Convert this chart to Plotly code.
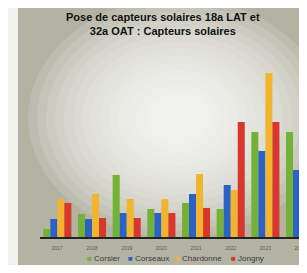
import plotly.graph_objects as go

years = ["2017", "2018", "2019", "2020", "2021", "2022", "2023", "2024"]
series_names = ["Corsier", "Corseaux", "Chardonne", "Jongny"]
corsier = [8, 23, 62, 28, 34, 28, 105, 105]
corseaux = [18, 18, 24, 24, 43, 52, 86, 67]
chardonne = [38, 43, 38, 38, 63, 47, 164, 120]
jongny = [34, 19, 19, 24, 29, 115, 115, 115]
colors = ["#74b235", "#2a62c8", "#f0b42e", "#d8372c"]
title_text = "Pose de capteurs solaires 18a LAT et<br>32a OAT : Capteurs solaires"

# page has an 8px body margin: work in reference-pixel coords, shift by OFF
OFF = 8
W, H = 307 - OFF, 273 - 2 * OFF
L, R = 40 - OFF, 0
T = 40 - OFF
B = H - (237 - OFF)
pw, ph = W - L - R, H - T - B

def px(x):
    return (x - OFF - L) / pw

def py(y):
    return (H - B - (y - OFF)) / ph

fig = go.Figure()
for name, vals, c in zip(series_names, [corsier, corseaux, chardonne, jongny], colors):
    fig.add_trace(go.Bar(x=years, y=vals, name=name, marker=dict(color=c, line=dict(width=0)),
                         showlegend=False))

shapes = []
shapes.append(dict(type="rect", xref="paper", yref="paper", x0=px(18), x1=px(320), y0=py(268), y1=py(-10),
                   fillcolor="#b3b3a4", line=dict(width=0), layer="below"))
# soft glare
cx, cy = 178, 118
n = 14
for i in range(n):
    r = 150 - i * 9
    shapes.append(dict(type="circle", xref="paper", yref="paper",
                       x0=px(cx - r), x1=px(cx + r), y0=py(cy + r * 0.8), y1=py(cy - r * 0.8),
                       fillcolor="#ffffff", opacity=0.12, line=dict(width=0), layer="below"))

annotations = [dict(text=title_text, x=px(163), y=py(24), xref="paper", yref="paper",
                    xanchor="center", yanchor="middle", showarrow=False,
                    font=dict(family="Liberation Sans", size=11, color="#111111", weight="bold"))]
leg_x = [85, 126, 173, 229]
for name, c, lx in zip(series_names, colors, leg_x):
    annotations.append(dict(text=f'<span style="color:{c}">■</span> {name}', x=px(lx), y=py(258),
                            xref="paper", yref="paper", xanchor="left", yanchor="middle",
                            showarrow=False,
                            font=dict(family="Liberation Sans", size=8, color="#3a3a3a")))

fig.update_layout(
    width=W, height=H,
    margin=dict(l=L, r=R, t=T, b=B, pad=0),
    paper_bgcolor="#f0f0ec",
    plot_bgcolor="rgba(0,0,0,0)",
    barmode="group", bargap=0.19, bargroupgap=0,
    shapes=shapes, annotations=annotations,
    xaxis=dict(type="category", range=[-0.5, 7.2], showline=True, linecolor="#222222", linewidth=2,
               ticks="", tickfont=dict(family="Liberation Sans", size=5, color="#5a5a5a"),
               ticklabelstandoff=5, showgrid=False, zeroline=False, fixedrange=True),
    yaxis=dict(range=[0, ph], visible=False, showgrid=False, zeroline=False),
    showlegend=False,
)
fig.write_html("out.html")
